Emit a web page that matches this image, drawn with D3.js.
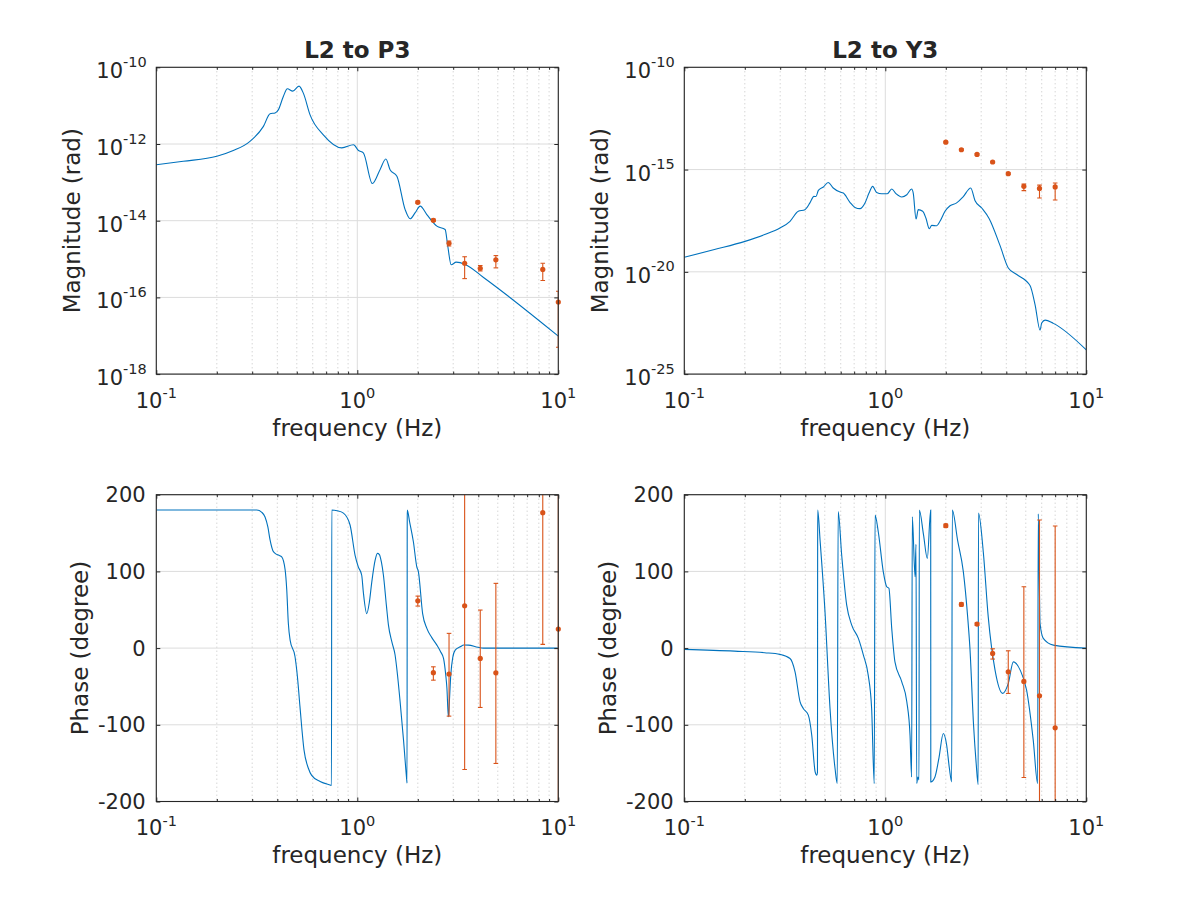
<!DOCTYPE html>
<html><head><meta charset="utf-8">
<script src="https://cdn.jsdelivr.net/npm/d3@7"></script>
<style>
body{margin:0;background:#fff;}
text{font-family:"DejaVu Sans",sans-serif;fill:#262626;}
</style>
</head><body>
<svg id="c" width="1200" height="900"></svg>
<script>
// ---------- data ----------
const titles = ["L2 to P3", "L2 to Y3"];
const xTickExp = [-1, 0, 1];
const magTicksP3 = [-18, -16, -14, -12, -10];
const magTicksY3 = [-25, -20, -15, -10];
const phaseTicks = [-200, -100, 0, 100, 200];

// model curves: [log10(frequency Hz), value]  (magnitude as log10 rad, phase in degree)
const p3MagModel = [[-1.0,-12.54],[-0.866,-12.45],[-0.699,-12.32],[-0.617,-12.17],[-0.534,-11.93],[-0.467,-11.54],[-0.434,-11.21],[-0.409,-11.19],[-0.393,-11.11],[-0.368,-10.76],[-0.348,-10.56],[-0.321,-10.62],[-0.290,-10.49],[-0.268,-10.68],[-0.235,-11.24],[-0.169,-11.76],[-0.077,-12.10],[-0.019,-12.02],[0.006,-12.17],[0.030,-12.23],[0.075,-13.03],[0.113,-12.67],[0.142,-12.39],[0.163,-12.67],[0.197,-12.84],[0.238,-13.71],[0.263,-13.95],[0.288,-13.79],[0.313,-13.62],[0.346,-13.84],[0.396,-14.14],[0.437,-14.23],[0.450,-14.66],[0.467,-15.15],[0.492,-15.08],[0.537,-15.14],[0.628,-15.48],[1.0,-17.01]];

const y3MagModel = [[-1.0,-19.29],[-0.85,-18.91],[-0.698,-18.51],[-0.6,-18.18],[-0.524,-17.86],[-0.474,-17.53],[-0.433,-17.04],[-0.400,-16.96],[-0.375,-16.63],[-0.355,-16.31],[-0.345,-16.32],[-0.333,-16.02],[-0.308,-15.85],[-0.284,-15.63],[-0.259,-15.90],[-0.225,-16.10],[-0.209,-16.15],[-0.176,-16.60],[-0.151,-16.85],[-0.126,-16.91],[-0.101,-16.63],[-0.081,-16.15],[-0.063,-15.82],[-0.043,-16.12],[-0.018,-16.18],[0.010,-16.18],[0.032,-15.95],[0.053,-16.18],[0.082,-16.34],[0.107,-16.23],[0.131,-15.95],[0.139,-16.15],[0.153,-17.42],[0.164,-16.96],[0.186,-17.04],[0.202,-17.37],[0.219,-17.89],[0.231,-17.73],[0.256,-17.75],[0.272,-17.53],[0.297,-17.04],[0.322,-16.77],[0.355,-16.63],[0.388,-16.32],[0.425,-15.90],[0.446,-16.51],[0.480,-16.88],[0.517,-17.40],[0.571,-18.72],[0.612,-19.81],[0.654,-20.13],[0.720,-20.67],[0.745,-21.6],[0.770,-22.85],[0.778,-22.5],[0.795,-22.36],[0.836,-22.52],[1.0,-23.82]];

const p3PhaseModel = [[-1.0,180],[-0.5,180],[-0.475,177],[-0.459,171],[-0.445,158],[-0.434,141],[-0.42,127],[-0.409,123.5],[-0.39,121],[-0.376,119],[-0.359,102],[-0.351,76],[-0.343,32],[-0.334,10],[-0.310,-11],[-0.298,-37],[-0.285,-77],[-0.265,-133],[-0.243,-157],[-0.227,-166],[-0.185,-174],[-0.135,-178.5],[-0.1285,-179],[-0.127,180],[-0.10,179],[-0.069,176],[-0.036,160.5],[-0.011,121],[0.005,106],[0.022,95],[0.030,73],[0.047,45],[0.060,60],[0.072,86],[0.089,115],[0.100,123.5],[0.110,122],[0.120,112],[0.130,95],[0.145,55],[0.155,30],[0.172,8],[0.188,-9],[0.200,-35],[0.213,-70],[0.230,-120],[0.246,-172],[0.2475,-176],[0.2485,180],[0.26,165],[0.279,138.7],[0.296,106],[0.304,99.5],[0.325,45],[0.346,25.7],[0.37,14],[0.396,3.9],[0.415,-5],[0.429,-13.4],[0.440,-35],[0.446,-52.6],[0.453,-89.6],[0.458,-70],[0.465,-35.2],[0.475,-12],[0.487,-2.6],[0.512,1.7],[0.53,4],[0.553,3.9],[0.6,1],[0.628,0],[1.0,0]];

const y3PhaseModel = [[-1.0,-1.7],[-0.75,-4],[-0.6,-6],[-0.524,-8.2],[-0.474,-13.5],[-0.449,-30.9],[-0.424,-70],[-0.408,-78.7],[-0.383,-87.4],[-0.366,-113.5],[-0.349,-161.4],[-0.341,-165.7],[-0.3375,-162],[-0.3363,180],[-0.324,138.7],[-0.300,47.4],[-0.275,-78.7],[-0.250,-157],[-0.239,-176.5],[-0.2345,178],[-0.217,121.3],[-0.192,56],[-0.167,30],[-0.134,12.7],[-0.109,-9.1],[-0.085,-35.2],[-0.068,-78.7],[-0.055,-176.5],[-0.051,173.5],[-0.035,151.7],[-0.010,99.5],[0.007,80],[0.018,78],[0.032,25.7],[0.048,-18],[0.082,-44],[0.107,-70],[0.123,-113.5],[0.131,-168],[0.1343,171.3],[0.148,93],[0.1527,135.3],[0.1562,-176.5],[0.162,-168],[0.1677,-172],[0.1692,180],[0.19,148],[0.209,117],[0.2259,180],[0.2264,-174.4],[0.247,-168],[0.267,-143],[0.2886,-111.3],[0.305,-126],[0.319,-157],[0.3303,-174.4],[0.3333,180],[0.36,140],[0.388,100],[0.41,40],[0.421,0],[0.439,-100],[0.452,-150],[0.462,-178],[0.4635,176],[0.4876,125],[0.512,41],[0.546,-28.7],[0.584,-59],[0.612,-46],[0.637,-17.9],[0.671,-28.7],[0.703,-54.8],[0.736,-120],[0.758,-176.5],[0.761,175],[0.770,32],[0.786,12.7],[0.836,3.9],[1.0,0]];

// measurements (frequency Hz, value, lower, upper)
const p3MeasFreq  = [2.00, 2.39, 2.86, 3.42, 4.09, 4.89, 8.37, 10.0];
const p3MagMeas   = [-13.52, -13.99, -14.59, -15.11, -15.24, -15.02, -15.27, -16.12];
const p3MagLo     = [-13.55, -14.02, -14.66, -15.51, -15.31, -15.23, -15.56, -17.30];
const p3MagHi     = [-13.49, -13.96, -14.53, -14.94, -15.17, -14.91, -15.11, -15.84];
const p3PhMeas    = [61.7, -32.0, -33.9, 55.2, -13.5, -32.2, 176.5, 24.8];
const p3PhLo      = [54.8, -41.8, -88.7, -158.3, -77.4, -150.4, 4.8, -320];
const p3PhHi      = [67.8, -24.4, 19.2, 268.7, 49.6, 84.4, 348.0, 370];

const y3MeasFreq  = [2.00, 2.39, 2.86, 3.42, 4.09, 4.89, 5.85, 7.00];
const y3MagMeas   = [-13.66, -14.03, -14.26, -14.63, -15.20, -15.82, -15.92, -15.85];
const y3MagLo     = [-13.70, -14.07, -14.30, -14.67, -15.24, -16.03, -16.39, -16.49];
const y3MagHi     = [-13.62, -13.99, -14.22, -14.59, -15.16, -15.71, -15.76, -15.66];
const y3PhMeas    = [159.6, 57.0, 31.3, -6.9, -30.9, -43.5, -62.2, -104.0];
const y3PhLo      = [157.5, 55.0, 29.5, -14.3, -59.1, -168.7, -291, -367];
const y3PhHi      = [161.7, 59.0, 33.0, -0.9, -3.5, 80.0, 167.1, 159.2];

// ---------- drawing ----------
const BLUE = "#0072BD", ORANGE = "#D95319", AX = "#262626";
const svg = d3.select("#c");
const colX = [156.3, 684.3], rowY = [67.3, 494.7];
const PW = 402, PH = 306.8;

const panels = [
  {col:0,row:0,kind:"mag",dom:[1e-18,1e-10],ticks:magTicksP3,model:p3MagModel,f:p3MeasFreq,v:p3MagMeas,lo:p3MagLo,hi:p3MagHi,title:titles[0],ylab:"Magnitude (rad)"},
  {col:1,row:0,kind:"mag",dom:[1e-25,1e-10],ticks:magTicksY3,model:y3MagModel,f:y3MeasFreq,v:y3MagMeas,lo:y3MagLo,hi:y3MagHi,title:titles[1],ylab:"Magnitude (rad)"},
  {col:0,row:1,kind:"ph",dom:[-200,200],ticks:phaseTicks,model:p3PhaseModel,f:p3MeasFreq,v:p3PhMeas,lo:p3PhLo,hi:p3PhHi,ylab:"Phase (degree)"},
  {col:1,row:1,kind:"ph",dom:[-200,200],ticks:phaseTicks,model:y3PhaseModel,f:y3MeasFreq,v:y3PhMeas,lo:y3PhLo,hi:y3PhHi,ylab:"Phase (degree)"}
];

const minorF = [];
[0.1, 1].forEach(d => { for (let k = 2; k <= 9; k++) minorF.push(d * k); });

panels.forEach((p, i) => {
  const x0 = colX[p.col], y0 = rowY[p.row];
  const x = d3.scaleLog().domain([0.1, 10]).range([x0, x0 + PW]);
  const y = p.kind === "mag"
    ? d3.scaleLog().domain(p.dom).range([y0 + PH, y0])
    : d3.scaleLinear().domain(p.dom).range([y0 + PH, y0]);
  const val = v => p.kind === "mag" ? Math.pow(10, v) : v;
  const g = svg.append("g");

  g.append("clipPath").attr("id", "clip" + i).append("rect")
    .attr("x", x0).attr("y", y0).attr("width", PW).attr("height", PH);

  // minor x grid (dotted)
  g.append("g").selectAll("line").data(minorF).join("line")
    .attr("x1", d => x(d)).attr("x2", d => x(d)).attr("y1", y0).attr("y2", y0 + PH)
    .attr("stroke", "#bdbdbd").attr("stroke-width", 0.9).attr("stroke-dasharray", "1,3");
  // major x grid
  g.append("g").selectAll("line").data(xTickExp.map(e => Math.pow(10, e))).join("line")
    .attr("x1", d => x(d)).attr("x2", d => x(d)).attr("y1", y0).attr("y2", y0 + PH)
    .attr("stroke", "#dcdcdc").attr("stroke-width", 1);
  // major y grid
  const yTickVals = p.ticks.map(val);
  g.append("g").selectAll("line").data(yTickVals).join("line")
    .attr("x1", x0).attr("x2", x0 + PW).attr("y1", d => y(d)).attr("y2", d => y(d))
    .attr("stroke", "#dcdcdc").attr("stroke-width", 1);

  // model line
  const line = d3.line().x(d => x(Math.pow(10, d[0]))).y(d => y(val(d[1]))).curve(d3.curveMonotoneX);
  g.append("path").datum(p.model).attr("d", line)
    .attr("clip-path", "url(#clip" + i + ")")
    .attr("fill", "none").attr("stroke", BLUE).attr("stroke-width", 1.1);

  // measurements with error bars
  const meas = p.f.map((f, k) => ({f, v: val(p.v[k]), lo: val(p.lo[k]), hi: val(p.hi[k])}));
  const eg = g.append("g").attr("clip-path", "url(#clip" + i + ")");
  eg.selectAll("line.eb").data(meas).join("line").attr("class", "eb")
    .attr("x1", d => x(d.f)).attr("x2", d => x(d.f))
    .attr("y1", d => y(d.lo)).attr("y2", d => y(d.hi))
    .attr("stroke", ORANGE).attr("stroke-width", 1.1);
  ["lo", "hi"].forEach(k => {
    eg.selectAll("line.c" + k).data(meas).join("line").attr("class", "c" + k)
      .attr("x1", d => x(d.f) - 2.3).attr("x2", d => x(d.f) + 2.3)
      .attr("y1", d => y(d[k])).attr("y2", d => y(d[k]))
      .attr("stroke", ORANGE).attr("stroke-width", 1.1);
  });
  g.append("g").selectAll("circle").data(meas).join("circle")
    .attr("cx", d => x(d.f)).attr("cy", d => y(d.v)).attr("r", 2.6)
    .attr("fill", ORANGE);

  // axes with inward ticks (box on)
  const styleAxis = a => { a.select(".domain").remove(); a.selectAll("line").attr("stroke", AX).attr("stroke-width", 1); a.selectAll("text").remove(); };
  const xMaj = xTickExp.map(e => Math.pow(10, e));
  [[d3.axisBottom, y0 + PH], [d3.axisTop, y0]].forEach(([ax, ty]) => {
    g.append("g").attr("transform", `translate(0,${ty})`)
      .call(ax(x).tickValues(xMaj).tickSize(-4).tickFormat(""))
      .call(styleAxis);
    g.append("g").attr("transform", `translate(0,${ty})`)
      .call(ax(x).tickValues(minorF).tickSize(-2.5).tickFormat(""))
      .call(styleAxis);
  });
  [[d3.axisLeft, x0], [d3.axisRight, x0 + PW]].forEach(([ax, tx]) => {
    g.append("g").attr("transform", `translate(${tx},0)`)
      .call(ax(y).tickValues(yTickVals).tickSize(-4).tickFormat(""))
      .call(styleAxis);
  });
  // box
  g.append("rect").attr("x", x0).attr("y", y0).attr("width", PW).attr("height", PH)
    .attr("fill", "none").attr("stroke", AX).attr("stroke-width", 1.1);

  // x tick labels 10^e
  xTickExp.forEach(e => {
    const t = g.append("text").attr("x", x(Math.pow(10, e))).attr("y", y0 + PH + 33.5)
      .attr("text-anchor", "middle").style("font-size", "21px");
    t.append("tspan").text("10");
    t.append("tspan").attr("dy", -9.5).style("font-size", "14.5px").text(String(e));
  });
  // y tick labels
  p.ticks.forEach(tv => {
    const ty = y(val(tv));
    if (p.kind === "mag") {
      const t = g.append("text").attr("x", x0 - 9.6).attr("y", ty + 11)
        .attr("text-anchor", "end").style("font-size", "21px");
      t.append("tspan").text("10");
      t.append("tspan").attr("dy", -11.5).style("font-size", "14.5px").text(String(tv));
    } else {
      g.append("text").attr("x", x0 - 10.6).attr("y", ty + 7.5)
        .attr("text-anchor", "end").style("font-size", "21px").text(String(tv));
    }
  });
  // axis labels
  g.append("text").attr("x", x0 + PW / 2).attr("y", y0 + PH + 61.5)
    .attr("text-anchor", "middle").style("font-size", "23px").text("frequency (Hz)");
  const lx = p.kind === "mag" ? x0 - 76.3 : x0 - 68;
  g.append("text").attr("transform", `translate(${lx},${y0 + PH / 2}) rotate(-90)`)
    .attr("text-anchor", "middle").style("font-size", "23px").text(p.ylab);
  if (p.title) {
    g.append("text").attr("x", x0 + PW / 2).attr("y", 57.7)
      .attr("text-anchor", "middle").style("font-size", "23px").style("font-weight", "bold").text(p.title);
  }
});
</script>
</body></html>
